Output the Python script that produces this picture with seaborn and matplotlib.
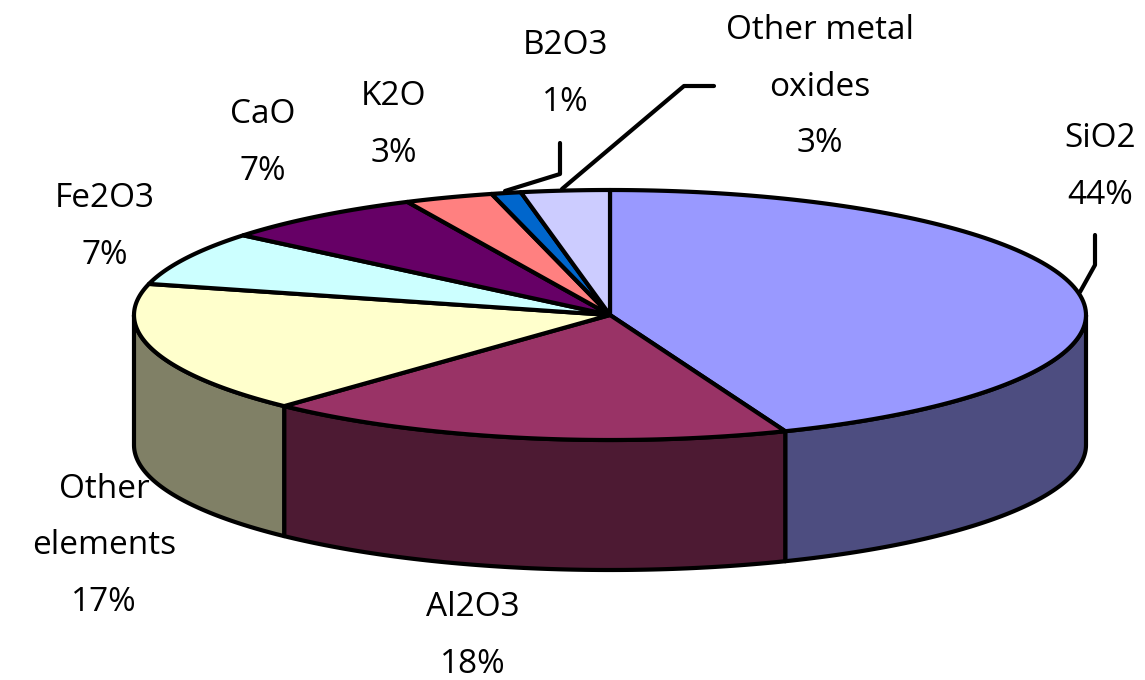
import numpy as np
import matplotlib
matplotlib.use("Agg")
import matplotlib.pyplot as plt
from matplotlib.patches import Polygon
import seaborn as sns

categories = ["SiO2", "Al2O3", "Other\nelements", "Fe2O3", "CaO", "K2O", "B2O3", "Other metal\noxides"]
values = [44, 18, 17, 7, 7, 3, 1, 3]
top_colors = ["#9999FF", "#993366", "#FFFFCC", "#CCFFFF", "#660066", "#FF8080", "#0066CC", "#CCCCFF"]
side_colors = ["#4D4D80", "#4D1A33", "#808066", "#668080", "#330033", "#804040", "#003366", "#666680"]
label_pos = [(1100, 167), (473, 636), (104, 546), (105, 227), (263, 143), (394, 125), (565, 74), (820, 87)]

sns.set_theme(style="white")
plt.rcParams['font.family'] = ['Open Sans', 'DejaVu Sans']

CX, CY, RX, RY, DEPTH = 610, 315, 476, 125, 130
LW = 3.0

def ell(f, dy=0):
    a = 2 * np.pi * np.asarray(f)
    return np.column_stack([CX + RX * np.sin(a), CY - RY * np.cos(a) + dy])

fig = plt.figure(figsize=(11.45, 6.8), dpi=100, facecolor="white")
ax = fig.add_axes([0, 0, 1, 1])
ax.set_xlim(0, 1145)
ax.set_ylim(680, 0)
ax.axis("off")

fracs = np.cumsum([0] + values) / sum(values)
for i, (a, b) in enumerate(zip(fracs[:-1], fracs[1:])):
    lo, hi = max(a, 0.25), min(b, 0.75)
    if hi > lo:
        t = np.linspace(lo, hi, 80)
        pts = np.vstack([ell(t), ell(t[::-1], DEPTH)])
        ax.add_patch(Polygon(pts, closed=True, fc=side_colors[i], ec="black", lw=LW, joinstyle="round", zorder=2))
for i, (a, b) in enumerate(zip(fracs[:-1], fracs[1:])):
    t = np.linspace(a, b, 120)
    pts = np.vstack([[CX, CY], ell(t)])
    ax.add_patch(Polygon(pts, closed=True, fc=top_colors[i], ec="black", lw=LW, joinstyle="round", zorder=3))

for name, v, (x, y) in zip(categories, values, label_pos):
    ax.text(x, y, f"{name}\n{v}%", ha="center", va="center", fontsize=24, color="black",
            linespacing=1.95, zorder=5)

leaders = [
    ([1080, 1095, 1095], [292, 265, 235]),
    ([505, 560, 560], [191, 174, 143]),
    ([562, 684, 714], [189, 86, 86]),
]
for xs, ys in leaders:
    ax.plot(xs, ys, color="black", lw=LW, zorder=4)

fig.savefig("out.png", dpi=100)
